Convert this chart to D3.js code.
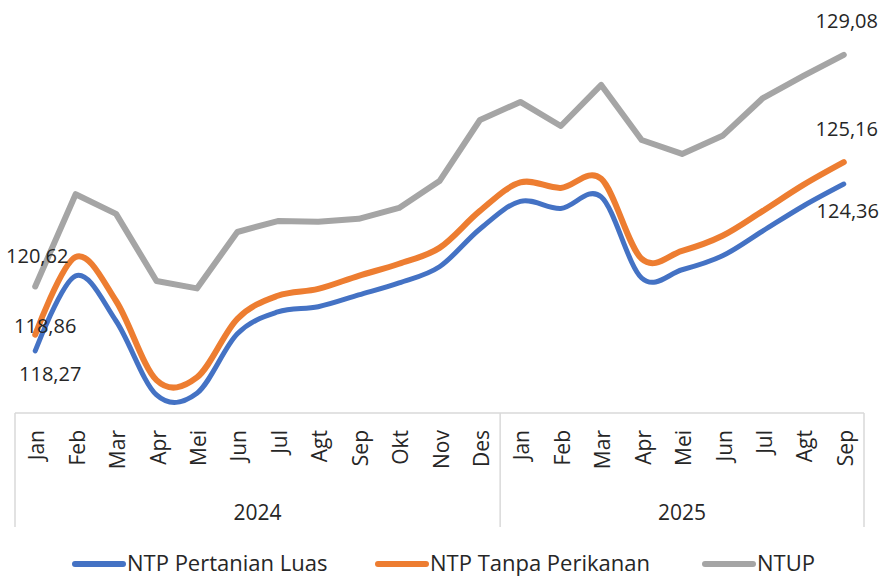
<!DOCTYPE html>
<html>
<head>
<meta charset="utf-8">
<script src="https://cdn.jsdelivr.net/npm/d3@7"></script>
<style>
  body { margin: 0; background: #fff; }
  text { font-family: "Open Sans", sans-serif; fill: #262626; }
</style>
</head>
<body>
<div id="chart-area"></div>
<script>
// data
let months = ['Jan','Feb','Mar','Apr','Mei','Jun','Jul','Agt','Sep','Okt','Nov','Des',
              'Jan','Feb','Mar','Apr','Mei','Jun','Jul','Agt','Sep'];
let years = [{ label: '2024', start: 0, end: 11 }, { label: '2025', start: 12, end: 20 }];

let ntpLuas = [118.27, 121.01, 119.36, 116.66, 116.72, 118.89, 119.69, 119.88, 120.31, 120.75, 121.34, 122.72,
               123.73, 123.47, 123.89, 120.93, 121.23, 121.74, 122.65, 123.56, 124.36];
let ntpTanpa = [118.86, 121.70, 120.09, 117.20, 117.30, 119.44, 120.28, 120.53, 121.01, 121.45, 122.03, 123.38,
                124.42, 124.22, 124.55, 121.63, 121.92, 122.47, 123.38, 124.33, 125.16];
let ntup = [120.62, 123.99, 123.27, 120.82, 120.55, 122.61, 123.01, 122.98, 123.09, 123.49, 124.47, 126.70,
            127.36, 126.48, 127.98, 125.97, 125.46, 126.12, 127.50, 128.31, 129.08];

let seriesNames = ['NTP Pertanian Luas', 'NTP Tanpa Perikanan', 'NTUP'];
let colors = ['#4472C4', '#ED7D31', '#A5A5A5'];

//************* Canvas Set Up *************//
let width = 880, height = 577;
let svg = d3.select('#chart-area').append('svg')
  .attr('width', width)
  .attr('height', height);

let x = d3.scaleBand()
  .domain(d3.range(months.length))
  .range([15, 864]);
let y = d3.scaleLinear()
  .domain([116, 130])
  .range([413, 29.6]);

let cx = i => x(i) + x.bandwidth() / 2;

// axis frame
let axisTop = y(116), axisBottom = 527;
let gridColor = '#d9d9d9';
svg.append('line')
  .attr('x1', x.range()[0]).attr('x2', x.range()[1])
  .attr('y1', axisTop).attr('y2', axisTop)
  .attr('stroke', gridColor).attr('stroke-width', 1.5);

let dividers = [x(0), x(years[1].start), x.range()[1]];
svg.selectAll('.divider')
  .data(dividers)
  .enter().append('line')
    .attr('class', 'divider')
    .attr('x1', d => d).attr('x2', d => d)
    .attr('y1', axisTop).attr('y2', axisBottom)
    .attr('stroke', gridColor).attr('stroke-width', 1.5);

// month labels
svg.selectAll('.month')
  .data(months)
  .enter().append('text')
    .attr('class', 'month')
    .attr('transform', (d, i) => 'translate(' + (cx(i) + 9) + ',' + (axisTop + 17) + ') rotate(-90)')
    .attr('text-anchor', 'end')
    .attr('font-size', '21px')
    .text(d => d);

// year labels
svg.selectAll('.year')
  .data(years)
  .enter().append('text')
    .attr('class', 'year')
    .attr('x', d => (x(d.start) + x(d.end) + x.bandwidth()) / 2)
    .attr('y', 520)
    .attr('text-anchor', 'middle')
    .attr('font-size', '21px')
    .text(d => d.label);

// lines
let smooth = d3.line()
  .x((d, i) => cx(i))
  .y(d => y(d))
  .curve(d3.curveCardinal.tension(0));
let straight = d3.line()
  .x((d, i) => cx(i))
  .y(d => y(d));

svg.append('path')
  .datum(ntup)
  .attr('d', straight)
  .attr('fill', 'none')
  .attr('stroke', colors[2])
  .attr('stroke-width', 6)
  .attr('stroke-linejoin', 'round')
  .attr('stroke-linecap', 'round');

svg.append('path')
  .datum(ntpTanpa)
  .attr('d', smooth)
  .attr('fill', 'none')
  .attr('stroke', colors[1])
  .attr('stroke-width', 6)
  .attr('stroke-linecap', 'round');

svg.append('path')
  .datum(ntpLuas)
  .attr('d', smooth)
  .attr('fill', 'none')
  .attr('stroke', colors[0])
  .attr('stroke-width', 5)
  .attr('stroke-linecap', 'round');

// value labels at first and last points
let fmt = v => v.toFixed(2).replace('.', ',');
let last = months.length - 1;
let labels = [
  { v: ntpLuas[0], i: 0, dx: 15, dy: 30 },
  { v: ntpTanpa[0], i: 0, dx: 10, dy: -2 },
  { v: ntup[0], i: 0, dx: 2, dy: -23 },
  { v: ntpLuas[last], i: last, dx: 4, dy: 34 },
  { v: ntpTanpa[last], i: last, dx: 3, dy: -26 },
  { v: ntup[last], i: last, dx: 3, dy: -27 }
];
svg.selectAll('.vlabel')
  .data(labels)
  .enter().append('text')
    .attr('class', 'vlabel')
    .attr('x', d => cx(d.i) + d.dx)
    .attr('y', d => y(d.v) + d.dy)
    .attr('text-anchor', 'middle')
    .attr('font-size', '20px')
    .text(d => fmt(d.v));

// legend
let legendX = [73, 376, 703];
let legend = svg.selectAll('.legend')
  .data(seriesNames)
  .enter().append('g')
    .attr('class', 'legend')
    .attr('transform', (d, i) => 'translate(' + legendX[i] + ', 564)');
legend.append('line')
  .attr('x1', 2).attr('x2', 50)
  .attr('y1', 0).attr('y2', 0)
  .attr('stroke', (d, i) => colors[i])
  .attr('stroke-width', 6)
  .attr('stroke-linecap', 'round');
legend.append('text')
  .attr('x', 54)
  .attr('y', 7)
  .attr('font-size', '22px')
  .text(d => d);
</script>
</body>
</html>
